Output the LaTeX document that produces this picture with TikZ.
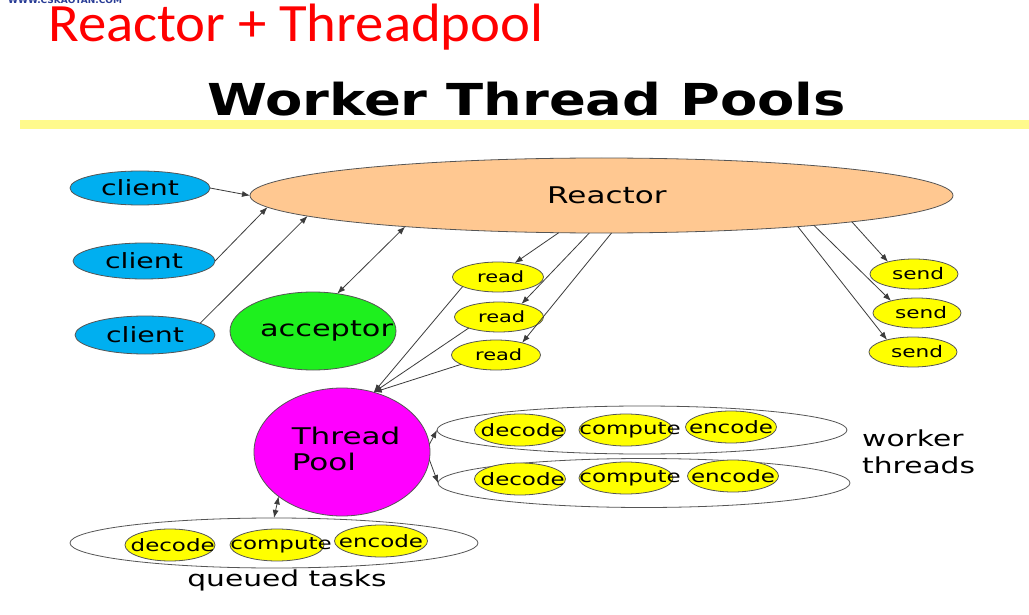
\documentclass[tikz,border=0pt]{standalone}
\usepackage{fontspec}
\usepackage{graphicx}
\setmainfont{DejaVu Sans}
\newfontfamily\titlefont{Carlito}
\usetikzlibrary{shapes.geometric,arrows.meta}
\definecolor{outl}{RGB}{85,85,85}
\definecolor{linecol}{RGB}{60,60,60}
\definecolor{clientblue}{RGB}{0,175,240}
\definecolor{peach}{RGB}{255,200,145}
\definecolor{accgreen}{RGB}{30,240,30}
\definecolor{poolmag}{RGB}{255,0,255}
\definecolor{taskyellow}{RGB}{255,255,0}
\definecolor{barcol}{RGB}{255,250,140}
\definecolor{wmblue}{RGB}{40,60,150}
\newcommand\hs[1]{\scalebox{1.35}[1]{#1}}
\newcommand\hz[1]{\makebox[0pt]{\scalebox{1.35}[1]{#1}}}
\tikzset{
  base/.style={ellipse,draw=outl,line width=0.8pt,inner sep=0pt,outer sep=0pt},
  clientnode/.style={base,fill=clientblue,minimum width=140pt,minimum height=36pt,font=\fontsize{21}{24}\selectfont},
  readnode/.style={base,fill=taskyellow,minimum width=89pt,minimum height=30pt,font=\fontsize{15.5}{18}\selectfont},
  sendnode/.style={base,fill=taskyellow,minimum width=88pt,minimum height=30pt,font=\fontsize{16}{19}\selectfont},
  tasknode/.style={base,fill=taskyellow,minimum height=32pt,font=\fontsize{17}{20}\selectfont},
  groupnode/.style={base,minimum height=48pt},
  arr/.style={draw=linecol,line width=0.8pt,-{Latex[length=8pt,width=6pt]}},
  arrtwo/.style={draw=linecol,line width=0.8pt,{Latex[length=8pt,width=6pt]}-{Latex[length=8pt,width=6pt]}},
  bigtext/.style={font=\fontsize{22}{27}\selectfont}
}
\begin{document}
\begin{tikzpicture}[x=1pt,y=-1pt]
\useasboundingbox (0,0) rectangle (1029,615);
\fill[white] (0,0) rectangle (1029,615);

% header
\node[anchor=base west,inner sep=0pt,text=wmblue,font=\bfseries\fontsize{9}{9}\selectfont] (wm) at (8,4) {WWW.CSKAOYAN.COM};
\node[anchor=base west,inner sep=0pt,text=red] (title) at (48,42) {\titlefont\fontsize{54}{60}\selectfont\scalebox{1.05}[1]{Reactor + Threadpool}};
\node[anchor=base west,inner sep=0pt] (head) at (207,116) {\bfseries\fontsize{44}{50}\selectfont\scalebox{1.235}[1]{Worker Thread Pools}};
\fill[barcol] (20,120) rectangle (1029,129);

% main nodes
\node[base,fill=peach,minimum width=703pt,minimum height=75pt,font=\fontsize{23}{27}\selectfont] (reactor) at (601.5,195.5) {\hz{\hspace{8pt}Reactor}};
\node[clientnode,minimum height=34pt] (client1) at (140,188) {\hz{client}};
\node[clientnode,minimum width=142pt] (client2) at (144,261) {\hz{client}};
\node[clientnode,minimum height=38pt] (client3) at (145,335) {\hz{client}};
\node[base,fill=accgreen,minimum width=166pt,minimum height=78pt,font=\fontsize{22.5}{27}\selectfont] (acceptor) at (313,331) {\hz{\hspace{20pt}acceptor}};

\node[readnode,minimum width=91pt] (read1) at (498,277) {\hz{\hspace{4pt}read}};
\node[readnode] (read2) at (499,317) {\hz{\hspace{4pt}read}};
\node[readnode] (read3) at (496,355) {\hz{\hspace{4pt}read}};

\node[sendnode] (send1) at (914,274) {\hz{\hspace{6pt}send}};
\node[sendnode] (send2) at (917,313) {\hz{\hspace{6pt}send}};
\node[sendnode] (send3) at (913,352) {\hz{\hspace{6pt}send}};

\node[base,fill=poolmag,minimum width=176pt,minimum height=128pt,font=\fontsize{23}{26}\selectfont] (pool) at (342,452) {\hz{\hspace{6pt}\begin{tabular}{@{}l@{}}Thread\\Pool\end{tabular}}};

% worker threads
\node[groupnode,minimum width=410pt] (wt1) at (642,430) {};
\node[groupnode,minimum width=412pt,minimum height=49pt] (wt2) at (644,483) {};
\node[tasknode,minimum width=91pt] (dec1) at (520,430) {\hz{\hspace{4pt}decode}};
\node[tasknode,minimum width=94pt] (com1) at (626,430) {\hz{\hspace{6pt}compute}};
\node[tasknode,minimum width=91pt] (enc1) at (731,427) {\hz{encode}};
\node[tasknode,minimum width=91pt] (dec2) at (520,479) {\hz{\hspace{4pt}decode}};
\node[tasknode,minimum width=94pt] (com2) at (626,478) {\hz{\hspace{6pt}compute}};
\node[tasknode,minimum width=91pt] (enc2) at (733,476) {\hz{encode}};
\node[bigtext,anchor=west,align=left,inner sep=0pt] (wlabel) at (862,452) {\hs{worker}\\\hs{threads}};

% queued tasks
\node[base,minimum width=408pt,minimum height=50pt] (queue) at (274,543) {};
\node[tasknode,minimum width=90pt] (dec3) at (170,545) {\hz{\hspace{4pt}decode}};
\node[tasknode,minimum width=94pt] (com3) at (277,545) {\hz{\hspace{6pt}compute}};
\node[tasknode,minimum width=93pt] (enc3) at (381,541) {\hz{encode}};
\node[bigtext,inner sep=0pt] (qlabel) at (287,580) {\hs{queued tasks}};

% connectors
\draw[arr] (client1.east) -- (reactor.west);
\draw[arr] (client2.east) -- (reactor.182.7);
\draw[arr] (client3.12) -- (reactor.184);
\draw[arrtwo] (acceptor.57) -- (reactor.189.2);
\draw[arr] (reactor.221.9) -- (read1.40);
\draw[arr] (reactor.252.95) -- (read2.30);
\draw[arr] (reactor.285.6) -- (read3.25);
\draw[arr] (read1.195) -- (pool.62);
\draw[arr] (read2.200) -- (pool.62);
\draw[arr] (read3.195) -- (pool.62);
\draw[arr] (reactor.-6.04) -- (send1.155);
\draw[arr] (reactor.-8.11) -- (send2.155);
\draw[arr] (reactor.-9.68) -- (send3.155);
\draw[arr] (pool.5) -- (wt1.west);
\draw[arr] (pool.-5) -- (wt2.west);
\draw[arrtwo] (pool.215) -- (queue.north);
\end{tikzpicture}
\end{document}
